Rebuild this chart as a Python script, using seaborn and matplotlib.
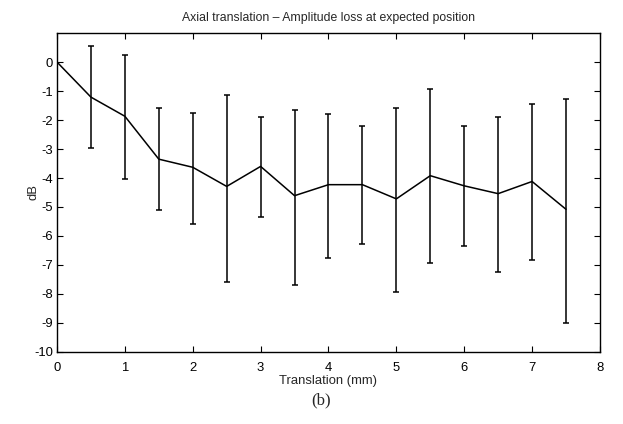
import matplotlib
matplotlib.use("Agg")
import matplotlib.pyplot as plt
import seaborn as sns
import numpy as np
import pandas as pd

translation = [0, 0.5, 1.0, 1.5, 2.0, 2.5, 3.0, 3.5, 4.0, 4.5, 5.0, 5.5, 6.0, 6.5, 7.0, 7.5]
mean_db = [0.0, -1.21, -1.87, -3.35, -3.63, -4.29, -3.6, -4.61, -4.23, -4.23, -4.72, -3.92, -4.27, -4.54, -4.12, -5.08]
upper_db = [0.0, 0.55, 0.25, -1.6, -1.75, -1.15, -1.9, -1.65, -1.79, -2.22, -1.6, -0.93, -2.22, -1.91, -1.43, -1.27]
lower_db = [0.0, -2.95, -4.05, -5.12, -5.58, -7.59, -5.35, -7.70, -6.76, -6.28, -7.93, -6.93, -6.36, -7.24, -6.82, -9.0]

title = "Axial translation \u2013 Amplitude loss at expected position"
xlabel = "Translation (mm)"
ylabel = "dB"
caption = "(b)"

sns.set_style("ticks")
plt.rcParams['font.family'] = ['Liberation Sans', 'DejaVu Sans']
plt.rcParams['axes.unicode_minus'] = False

df = pd.DataFrame({"x": translation, "y": mean_db})

fig = plt.figure(figsize=(6.23, 4.24), dpi=100)
ax = fig.add_axes([0.0915, 0.170, 0.8715, 0.752])

sns.lineplot(data=df, x="x", y="y", ax=ax, color="black", linewidth=1.1)

yerr_low = np.array(mean_db) - np.array(lower_db)
yerr_up = np.array(upper_db) - np.array(mean_db)
mask = (yerr_low > 0) | (yerr_up > 0)
ax.errorbar(np.array(translation)[mask], np.array(mean_db)[mask],
            yerr=[yerr_low[mask], yerr_up[mask]], fmt='none',
            ecolor='black', elinewidth=1.1, capsize=2.5, capthick=1.1)

ax.set_xlim(0, 8)
ax.set_ylim(-10, 1)
ax.set_xticks(range(0, 9))
ax.set_yticks(range(-10, 1))
ax.tick_params(direction='in', top=True, right=True, length=4, width=0.8,
               labelsize=9.4, colors='black')
ax.tick_params(axis='x', pad=7)
ax.tick_params(axis='y', pad=3)
for s in ax.spines.values():
    s.set_visible(True)
    s.set_color('black')
    s.set_linewidth(1.0)

ax.set_title(title, fontsize=8.8, pad=9)
ax.set_xlabel(xlabel, fontsize=9.4, labelpad=1)
ax.set_ylabel(ylabel, fontsize=9.4, labelpad=-4)

fig.text(0.515, 0.055, caption, ha='center', va='center', fontsize=12,
         family=['Liberation Serif', 'DejaVu Serif'])

fig.savefig("out.png", dpi=100, facecolor='white')
